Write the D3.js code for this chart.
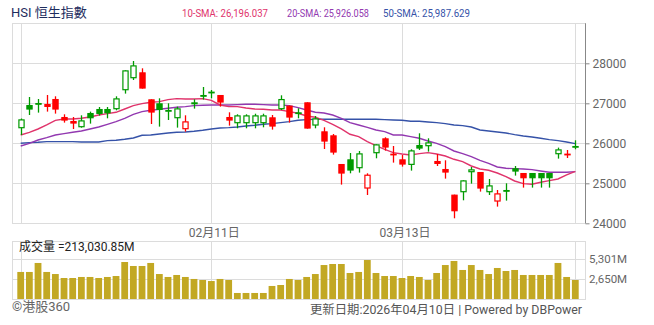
<!DOCTYPE html>
<html>
<head>
<meta charset="utf-8">
<script src="https://cdn.jsdelivr.net/npm/d3@7"></script>
<style>
  body { margin: 0; background: #fff; }
  text { font-family: Roboto, "Noto Sans CJK TC", sans-serif; }
</style>
</head>
<body>
<div id="chart"></div>
<script>
// daily HSI candles, 65 sessions (index based)
const days = d3.range(65);
const dateTicks = [22, 44];
const dateLabels = ['02月11日', '03月13日'];
const gridDays = [0, 22, 44, 64];

const open = [26375, 26958, 27008, 26983, 27108, 26658, 26558, 26400, 26758, 26858,
  26858, 26850, 27325, 27625, 27775, 27100, 27000, 26792, 26625, 26350,
  26975, 27208, 27292, 27208, 26658, 26500, 26500, 26500, 26500, 26650,
  26850, 26942, 26775, 27025, 26442, 26300, 26200, 25483, 25600, 25375,
  24867, 25750, 26125, 25742, 25600, 25458, 25958, 25925, 25558, 25358,
  24717, 24775, 25275, 25283, 24775, 24542, 24833, 25375, 25258, 25258,
  25258, 25258, 25725, 25742, 25892];
const high = [26620, 27158, 27108, 27208, 27175, 26725, 26658, 26700, 26792, 26908,
  26908, 27175, 27825, 28058, 27875, 27100, 27125, 27000, 26917, 26700,
  27100, 27408, 27333, 27208, 26775, 26725, 26725, 26740, 26740, 26708,
  27200, 26942, 26875, 27025, 26683, 26400, 26233, 25483, 25758, 25808,
  25250, 25975, 26150, 25933, 25708, 25850, 26250, 26125, 25733, 25575,
  24717, 25075, 25408, 25283, 25108, 24833, 25000, 25433, 25258, 25258,
  25258, 25258, 25892, 25833, 26075];
const low = [26208, 26708, 26767, 26792, 26742, 26517, 26358, 26390, 26492, 26692,
  26625, 26825, 27242, 27583, 27367, 26483, 26417, 26583, 26392, 26292,
  26867, 27092, 27125, 26917, 26442, 26375, 26375, 26375, 26400, 26342,
  26833, 26517, 26625, 26367, 26375, 25858, 25717, 24967, 25250, 25267,
  24708, 25625, 25817, 25517, 25417, 25317, 25833, 25792, 25433, 25117,
  24125, 24575, 24992, 24792, 24708, 24417, 24567, 25192, 24892, 24892,
  24892, 24892, 25617, 25633, 25850];
const close = [26600, 26842, 26967, 26908, 26842, 26567, 26492, 26575, 26625, 26733,
  26750, 27125, 27825, 27950, 27367, 26767, 26833, 26833, 26875, 26550,
  27025, 27167, 27250, 27017, 26567, 26700, 26700, 26700, 26700, 26417,
  27108, 26642, 26733, 26367, 26625, 26042, 25767, 25242, 25317, 25750,
  25217, 25975, 25892, 25708, 25467, 25825, 25867, 26025, 25483, 25267,
  24300, 25075, 25350, 24867, 24950, 24750, 24792, 25292, 25125, 25125,
  25125, 25125, 25850, 25733, 25933];
// colour of each candle: g = up on the day, r = down on the day
const trend = ['g','g','g','r','r','r','r','g','g','g',
  'g','g','g','g','r','r','g','g','g','r',
  'g','g','g','r','r','g','g','g','g','r',
  'g','r','g','r','g','r','r','r','g','g',
  'r','g','r','r','r','g','g','g','r','r',
  'r','g','g','r','g','r','g','g','r','g',
  'g','g','g','r','g'];
// turnover, millions
const volume = [3600, 3600, 4820, 3600, 3320, 2780, 2780, 2920, 2920, 2780,
  2920, 3050, 4950, 4410, 4410, 4820, 3320, 2920, 3190, 2920,
  2650, 2510, 2370, 2650, 2510, 750, 750, 750, 750, 1700,
  1830, 2650, 2510, 2920, 3320, 4540, 4680, 4680, 3460, 3600,
  5220, 3460, 3050, 3050, 2780, 3050, 2920, 2510, 3460, 4540,
  5090, 3870, 4540, 3870, 3320, 4140, 3730, 3870, 3190, 3190,
  3190, 3190, 4820, 2920, 2510];
const sma10 = [26208, 26275, 26358, 26458, 26575, 26608, 26608, 26625, 26658, 26708,
  26742, 26775, 26858, 26942, 26992, 27025, 27042, 27092, 27117, 27108,
  27108, 27117, 27075, 26958, 26917, 26917, 26883, 26858, 26850, 26833,
  26833, 26792, 26750, 26683, 26650, 26575, 26475, 26358, 26225, 26167,
  26042, 25942, 25850, 25767, 25733, 25708, 25742, 25767, 25733, 25683,
  25600, 25542, 25433, 25358, 25325, 25258, 25167, 25058, 24992, 24975,
  25025, 25067, 25108, 25208, 25300];
const sma20 = [25933, 26000, 26083, 26142, 26208, 26242, 26275, 26308, 26358, 26408,
  26475, 26542, 26625, 26725, 26792, 26825, 26850, 26875, 26900, 26917,
  26942, 26950, 26958, 26958, 26958, 26967, 26975, 26975, 26967, 26958,
  26958, 26942, 26892, 26833, 26775, 26758, 26708, 26625, 26517, 26458,
  26400, 26333, 26292, 26208, 26208, 26167, 26125, 26058, 26000, 25917,
  25808, 25742, 25667, 25575, 25500, 25408, 25375, 25367, 25358, 25342,
  25308, 25275, 25275, 25275, 25292];
const sma50 = [26000, 26017, 26025, 26042, 26042, 26042, 26042, 26033, 26033, 26033,
  26067, 26075, 26100, 26133, 26200, 26208, 26233, 26258, 26275, 26283,
  26300, 26325, 26358, 26383, 26392, 26408, 26433, 26450, 26475, 26492,
  26517, 26542, 26575, 26592, 26600, 26600, 26600, 26600, 26600, 26600,
  26600, 26600, 26592, 26583, 26575, 26550, 26550, 26533, 26517, 26492,
  26458, 26442, 26408, 26333, 26308, 26283, 26258, 26217, 26183, 26158,
  26125, 26092, 26067, 26033, 25992];

const priceTicks = [24000, 25000, 26000, 27000, 28000];
const volTicks = [2650.5, 5301];
const legend = [
  { text: '10-SMA: 26,196.037', color: '#e0336b', x: 182, w: 86 },
  { text: '20-SMA: 25,926.058', color: '#9238b0', x: 287, w: 82 },
  { text: '50-SMA: 25,987.629', color: '#3552a8', x: 383, w: 87 }
];

const width = 654, height = 325;
const frame = { left: 12, right: 585 };
const pricePanel = { top: 23.3, bottom: 223.3 };
const volPanel = { top: 241, bottom: 299 };
const green = '#009a00', red = '#ff0000';

const svg = d3.select('#chart').append('svg')
  .attr('width', width)
  .attr('height', height);

const x = d3.scalePoint().domain(days).range([20.7, 575.3]);
const y = d3.scaleLinear().domain([24000, 29000]).range([pricePanel.bottom, pricePanel.top]);
const yv = d3.scaleLinear().domain([0, 7800]).range([298.5, 241]);

// frames + grid
const grid = svg.append('g').attr('stroke', '#dcdcdc').attr('stroke-width', 1).attr('fill', 'none');
[pricePanel, volPanel].forEach(p => {
  grid.append('rect')
    .attr('x', frame.left + 0.5).attr('y', Math.round(p.top) + 0.5)
    .attr('width', frame.right - frame.left).attr('height', Math.round(p.bottom) - Math.round(p.top));
  grid.selectAll(null).data(gridDays).enter().append('line')
    .attr('x1', d => Math.round(x(d)) + 0.5).attr('x2', d => Math.round(x(d)) + 0.5)
    .attr('y1', p.top).attr('y2', p.bottom);
});
grid.selectAll(null).data(priceTicks.slice(1)).enter().append('line')
  .attr('x1', frame.left).attr('x2', frame.right)
  .attr('y1', d => Math.round(y(d)) + 0.5).attr('y2', d => Math.round(y(d)) + 0.5);
grid.selectAll(null).data(volTicks).enter().append('line')
  .attr('x1', frame.left).attr('x2', frame.right)
  .attr('y1', d => Math.round(yv(d)) + 0.5).attr('y2', d => Math.round(yv(d)) + 0.5);

// price axis on the right
const yAxis = d3.axisRight(y).tickValues(priceTicks).tickSize(4).tickPadding(3).tickFormat(d3.format('d'));
const ya = svg.append('g')
  .attr('transform', `translate(${frame.right + 0.5},0)`)
  .call(yAxis);
ya.select('.domain').attr('stroke', '#888').attr('d', `M0,${pricePanel.top}V${pricePanel.bottom}`);
ya.selectAll('.tick line').attr('stroke', '#888');
ya.selectAll('.tick text').attr('fill', '#666').style('font-size', '12px');

// volume axis labels
svg.append('g').selectAll('text').data(volTicks).enter().append('text')
  .attr('x', 589).attr('y', d => yv(d)).attr('dy', '0.35em')
  .attr('fill', '#666').style('font-size', '11.5px')
  .text(d => d3.format(',d')(Math.floor(d)) + 'M');

// date labels
svg.append('g').selectAll('text').data(dateTicks).enter().append('text')
  .attr('x', d => x(d) + 3).attr('y', 237)
  .attr('text-anchor', 'middle').attr('fill', '#666').style('font-size', '12px')
  .text((d, i) => dateLabels[i]);

// moving averages
const line = d3.line().x((d, i) => x(days[i])).y(d => y(d));
[[sma50, legend[2].color], [sma20, legend[1].color], [sma10, legend[0].color]].forEach(([s, c]) => {
  svg.append('path').datum(s)
    .attr('fill', 'none').attr('stroke', c).attr('stroke-width', 1.4)
    .attr('d', line);
});

// candles
const bodyW = 6.4;
const candles = svg.append('g').selectAll('g').data(days).enter().append('g');
candles.append('line')
  .attr('x1', d => Math.round(x(d)) + 0.5).attr('x2', d => Math.round(x(d)) + 0.5)
  .attr('y1', d => y(high[d])).attr('y2', d => y(low[d]))
  .attr('stroke', d => trend[d] === 'g' ? green : red).attr('stroke-width', 1.3);
candles.append('rect')
  .attr('x', d => Math.round(x(d)) + 0.5 - bodyW / 2 + 0.6)
  .attr('width', bodyW - 1.2)
  .attr('y', d => y(Math.max(open[d], close[d])) + 0.6)
  .attr('height', d => Math.max(0.6, Math.abs(y(open[d]) - y(close[d])) - 1.2))
  .attr('fill', d => close[d] > open[d] ? '#fff' : (trend[d] === 'g' ? green : red))
  .attr('stroke', d => trend[d] === 'g' ? green : red)
  .attr('stroke-width', 1.2);

// volume bars
svg.append('g').selectAll('rect').data(days).enter().append('rect')
  .attr('x', d => x(d) - 3.4)
  .attr('width', 6.8)
  .attr('y', d => yv(volume[d]))
  .attr('height', d => volPanel.bottom - yv(volume[d]))
  .attr('fill', '#c2a823');

// titles and legend
svg.append('text')
  .attr('x', 11).attr('y', 17)
  .attr('fill', '#1e2d5e').style('font-size', '13px')
  .text('HSI 恒生指數');
svg.append('g').selectAll('text').data(legend).enter().append('text')
  .attr('x', d => d.x).attr('y', 17)
  .attr('fill', d => d.color).style('font-size', '10.5px')
  .attr('textLength', d => d.w).attr('lengthAdjust', 'spacingAndGlyphs')
  .text(d => d.text);

svg.append('text')
  .attr('x', 19).attr('y', 251)
  .attr('fill', '#222').style('font-size', '12px')
  .text('成交量 =213,030.85M');

svg.append('text')
  .attr('x', 12).attr('y', 311)
  .attr('fill', '#666').style('font-size', '13px')
  .text('©港股360');
svg.append('text')
  .attr('x', 582).attr('y', 314)
  .attr('text-anchor', 'end')
  .attr('fill', '#555').style('font-size', '12px')
  .attr('textLength', 272).attr('lengthAdjust', 'spacingAndGlyphs')
  .text('更新日期:2026年04月10日 | Powered by DBPower');
</script>
</body>
</html>
